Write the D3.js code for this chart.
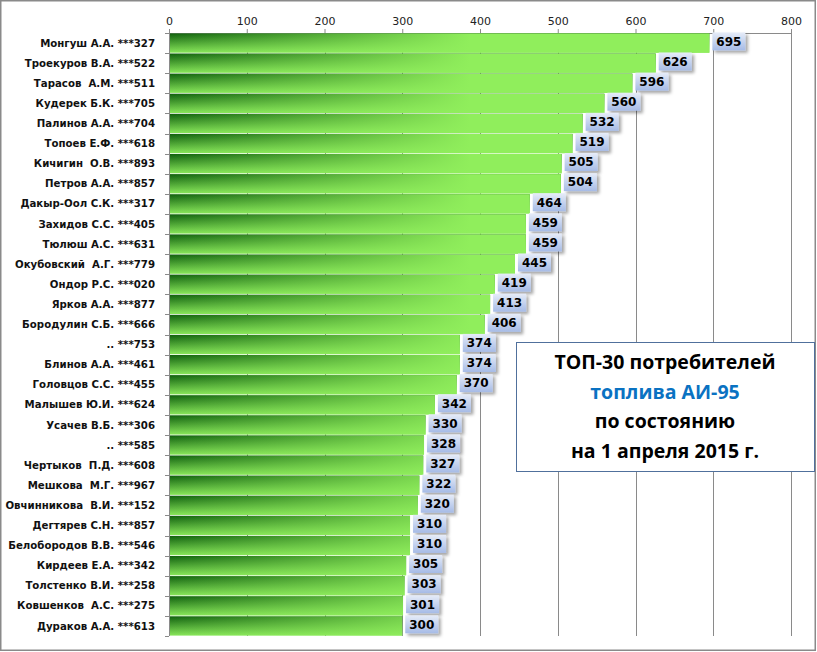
<!DOCTYPE html>
<html><head><meta charset="utf-8">
<script src="https://cdn.jsdelivr.net/npm/d3@7"></script>
<style>body{margin:0;background:#fff}svg{display:block}</style>
</head><body>
<script>
const names = ["Монгуш А.А. ***327","Троекуров В.А. ***522","Тарасов  А.М. ***511","Кудерек Б.К. ***705","Палинов А.А. ***704","Топоев Е.Ф. ***618","Кичигин  О.В. ***893","Петров А.А. ***857","Дакыр-Оол С.К. ***317","Захидов С.С. ***405","Тюлюш А.С. ***631","Окубовский  А.Г. ***779","Ондор Р.С. ***020","Ярков А.А. ***877","Бородулин С.Б. ***666",".. ***753","Блинов А.А. ***461","Головцов С.С. ***455","Малышев Ю.И. ***624","Усачев В.Б. ***306",".. ***585","Чертыков  П.Д. ***608","Мешкова  М.Г. ***967","Овчинникова  В.И. ***152","Дегтярев С.Н. ***857","Белобородов В.В. ***546","Кирдеев Е.А. ***342","Толстенко В.И. ***258","Ковшенков  А.С. ***275","Дураков А.А. ***613"];
const values = [695,626,596,560,532,519,505,504,464,459,459,445,419,413,406,374,374,370,342,330,328,327,322,320,310,310,305,303,301,300];
const xTicks = [0,100,200,300,400,500,600,700,800];
const titleLines = ["ТОП-30 потребителей","топлива АИ-95","по состоянию","на 1 апреля 2015 г."];

const W=817,H=652, pL=169, pR=791, pT=33, pB=636;
const svg=d3.select("body").append("svg").attr("width",W).attr("height",H);
const defs=svg.append("defs");
const vg=defs.append("linearGradient").attr("id","vg").attr("x1",0).attr("y1",0).attr("x2",0).attr("y2",1);
vg.append("stop").attr("offset",0).attr("stop-color","#10600c");
vg.append("stop").attr("offset",0.15).attr("stop-color","#22741a");
vg.append("stop").attr("offset",1).attr("stop-color","#88e65a");
const hg=defs.append("linearGradient").attr("id","hg").attr("gradientUnits","userSpaceOnUse").attr("x1",pL).attr("y1",0).attr("x2",470).attr("y2",0);
hg.append("stop").attr("offset",0).attr("stop-color","#90ee5c").attr("stop-opacity",0);
hg.append("stop").attr("offset",1).attr("stop-color","#90ee5c").attr("stop-opacity",1);
const lg=defs.append("linearGradient").attr("id","lg").attr("x1",0).attr("y1",0).attr("x2",0).attr("y2",1);
lg.append("stop").attr("offset",0).attr("stop-color","#e6ecf8");
lg.append("stop").attr("offset",1).attr("stop-color","#a6bbe6");
const f=defs.append("filter").attr("id","sh").attr("x","-30%").attr("y","-30%").attr("width","160%").attr("height","160%");
f.append("feDropShadow").attr("dx",2.5).attr("dy",2.5).attr("stdDeviation",1.5).attr("flood-color","#000").attr("flood-opacity",0.35);

const x=d3.scaleLinear().domain([0,800]).range([pL,pR]);
const y=d3.scaleBand().domain(names).range([pT,pB]).paddingInner(0.04).paddingOuter(0.02);

// frame
svg.append("rect").attr("x",0.75).attr("y",0.75).attr("width",814.5).attr("height",649.5).attr("fill","#fff").attr("stroke","#8a8a8a").attr("stroke-width",1.5);

// gridlines
svg.append("g").selectAll("line").data(xTicks.slice(1)).join("line")
 .attr("x1",d=>Math.round(x(d))+0.5).attr("x2",d=>Math.round(x(d))+0.5).attr("y1",pT).attr("y2",pB)
 .attr("stroke","#8a8a8a").attr("stroke-width",1);

// top axis
const xa=svg.append("g").attr("transform",`translate(0,${pT})`).call(d3.axisTop(x).tickValues(xTicks).tickSize(4).tickPadding(4).tickFormat(d3.format("d")));
xa.select(".domain").attr("stroke","#8a8a8a");
xa.selectAll(".tick line").attr("stroke","#8a8a8a");
xa.selectAll("text").attr("font-family","DejaVu Sans").attr("font-size",11).attr("fill","#222");

// bars
const bars=svg.append("g");
bars.selectAll("rect.b").data(values).join("rect").attr("class","b")
 .attr("x",pL).attr("y",(d,i)=>y(names[i])).attr("height",y.bandwidth()).attr("width",d=>x(d)-pL).attr("fill","url(#vg)");
bars.selectAll("rect.o").data(values).join("rect").attr("class","o")
 .attr("x",pL).attr("y",(d,i)=>y(names[i])).attr("height",y.bandwidth()).attr("width",d=>x(d)-pL).attr("fill","url(#hg)");

// left axis
const step=(pB-pT)/names.length;
const la=svg.append("g");
la.append("line").attr("x1",pL+0.5).attr("x2",pL+0.5).attr("y1",pT).attr("y2",pB).attr("stroke","#8a8a8a");
la.selectAll("line.t").data(d3.range(names.length+1)).join("line").attr("class","t")
 .attr("x1",pL-4).attr("x2",pL).attr("y1",i=>Math.round(pT+i*step)+0.5).attr("y2",i=>Math.round(pT+i*step)+0.5).attr("stroke","#8a8a8a");
la.selectAll("text").data(names).join("text")
 .attr("x",pL-14).attr("y",d=>y(d)+y.bandwidth()/2).attr("dy","0.35em").attr("text-anchor","end")
 .attr("font-family","DejaVu Sans").attr("font-weight","bold").attr("font-size",10.2).attr("fill","#111")
 .style("white-space","pre").text(d=>d);

// data labels
const lab=svg.append("g");
const lw=33,lh=18;
lab.selectAll("rect").data(values).join("rect")
 .attr("x",d=>x(d)+3).attr("y",(d,i)=>y(names[i])-1).attr("width",lw).attr("height",lh)
 .attr("fill","url(#lg)").attr("filter","url(#sh)");
lab.selectAll("text").data(values).join("text")
 .attr("x",d=>x(d)+3+lw/2).attr("y",(d,i)=>y(names[i])-1+lh/2).attr("dy","0.36em").attr("text-anchor","middle")
 .attr("font-family","DejaVu Sans").attr("font-weight","bold").attr("font-size",12).attr("fill","#000").text(d=>d);

// title box
svg.append("rect").attr("x",516.5).attr("y",342.5).attr("width",298).attr("height",129).attr("fill","#fff").attr("stroke","#50709c").attr("stroke-width",1);
svg.append("g").selectAll("text").data(titleLines).join("text")
 .attr("x",665).attr("y",(d,i)=>369+i*29.5).attr("text-anchor","middle")
 .attr("font-family","Open Sans").attr("font-weight","bold").attr("font-size",19.5)
 .attr("fill",(d,i)=>i===1?"#0a72c2":"#000").text(d=>d);
</script>
</body></html>
